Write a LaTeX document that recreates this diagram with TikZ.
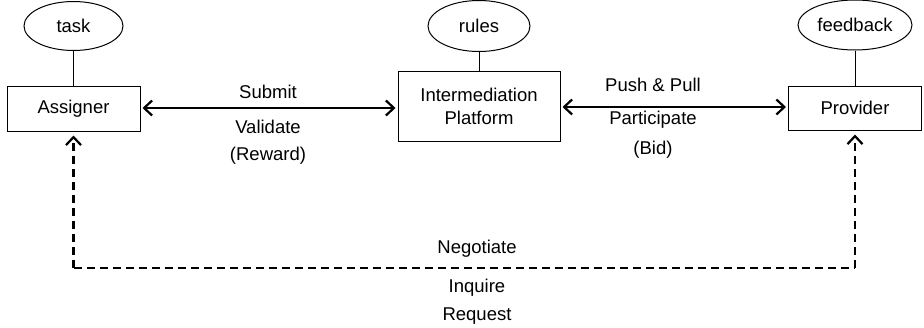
\documentclass[tikz,border=0pt]{standalone}
\usepackage{fontspec}
\setmainfont{Liberation Sans}
\usetikzlibrary{arrows.meta,shapes.geometric}
\begin{document}
\begin{tikzpicture}[x=1pt,y=-1pt,
  every node/.style={font=\fontsize{18.5}{23}\selectfont},
  boxnode/.style={draw,line width=1pt,inner sep=0pt,align=center},
  ovalnode/.style={draw,ellipse,line width=1pt,inner sep=0pt},
  lbl/.style={inner sep=0pt,anchor=center},
  conn/.style={line width=2.2pt},
  dconn/.style={line width=2.2pt,dash pattern=on 8pt off 5pt}]
\useasboundingbox (0,0) rectangle (924,327);
\node[boxnode,minimum width=133pt,minimum height=45pt] (as) at (73.5,108.5) {Assigner};
\node[boxnode,minimum width=162pt,minimum height=70pt] (ip) at (479,106) {Intermediation\\Platform};
\node[boxnode,minimum width=133pt,minimum height=44pt] (pr) at (855,108) {Provider};
\node[ovalnode,minimum width=99pt,minimum height=49pt] (task) at (73.5,26) {task};
\node[ovalnode,minimum width=102pt,minimum height=51pt] (rules) at (479,26) {rules};
\node[ovalnode,minimum width=114pt,minimum height=50pt] (fb) at (855,25) {feedback};
\draw[line width=1pt] (task) -- (as);
\draw[line width=1pt] (rules) -- (ip);
\draw[line width=1pt] (fb) -- (pr);
\draw[conn,{Straight Barb[length=8pt,width=15pt]}-{Straight Barb[length=8pt,width=15pt]},shorten <=2pt,shorten >=2pt] (as.east |- 0,108) -- (ip.west |- 0,108);
\draw[conn,{Straight Barb[length=8pt,width=15pt]}-{Straight Barb[length=8pt,width=15pt]},shorten <=2pt,shorten >=2pt] (ip.east |- 0,107) -- (pr.west |- 0,107);
\coordinate (c1) at (73.5,268);
\coordinate (c2) at (855,268);
\draw[dconn,-{Straight Barb[length=8pt,width=15pt]},shorten >=4pt] (c1) -- (as.south);
\draw[dconn] (c1) -- (c2);
\draw[dconn,-{Straight Barb[length=8pt,width=15pt]},shorten >=4pt] (c2) -- (pr.south);
\node[lbl] (l1) at (268,92) {Submit};
\node[lbl] (l2) at (268,127) {Validate};
\node[lbl] (l3) at (268,156) {(Reward)};
\node[lbl] (l4) at (653,85) {Push \& Pull};
\node[lbl] (l5) at (653,120) {Participate};
\node[lbl] (l6) at (653,150) {(Bid)};
\node[lbl] (l7) at (477,249) {Negotiate};
\node[lbl] (l8) at (477,288) {Inquire};
\node[lbl] (l9) at (477,316) {Request};
\end{tikzpicture}
\end{document}
